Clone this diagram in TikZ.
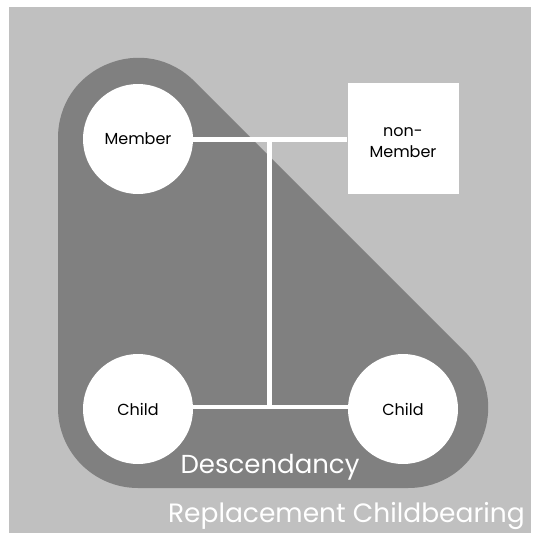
\documentclass[tikz,border=0pt]{standalone}
\usepackage{fontspec}
\setmainfont{Poppins}
\definecolor{bglight}{RGB}{192,192,192}
\definecolor{bgdark}{RGB}{128,128,128}
\begin{document}
\begin{tikzpicture}[x=1pt,y=-1pt,
  person/.style={circle,fill=white,minimum size=110pt,inner sep=0pt,font=\fontsize{16}{18}\selectfont},
  outsider/.style={rectangle,fill=white,minimum size=111pt,inner sep=0pt},
  outsidertext/.style={align=center,inner sep=0pt,font=\fontsize{16}{21}\selectfont},
  link/.style={white,line width=4.5pt}]
\useasboundingbox (0,0) rectangle (533,533);
\fill[bglight] (9,7) rectangle (531,533);
\filldraw[bgdark,line width=160pt,line join=round] (138,138) -- (138,408) -- (408,408) -- cycle;
\node[person] (m) at (138,139) {Member};
\node[person] (c1) at (138,409) {Child};
\node[person] (c2) at (403,409) {Child};
\node[outsider] (n) at (403,138.5) {};
\node[outsidertext] (nt) at ([yshift=-4pt]n.center) {non-\\Member};
\coordinate (top) at (269.5,139.5);
\coordinate (bot) at (269.5,407);
\draw[link] (m.east |- top) -- (n.west |- top);
\draw[link] (c1.east |- bot) -- (c2.west |- bot);
\draw[link] (top) -- (bot);
\node[anchor=base,text=white,font=\fontsize{26}{30}\selectfont,inner sep=0pt] (d) at (270,473) {Descendancy};
\node[anchor=base east,text=white,font=\fontsize{26.5}{30}\selectfont,inner sep=0pt] (r) at (525,522) {Replacement Childbearing};
\end{tikzpicture}
\end{document}
